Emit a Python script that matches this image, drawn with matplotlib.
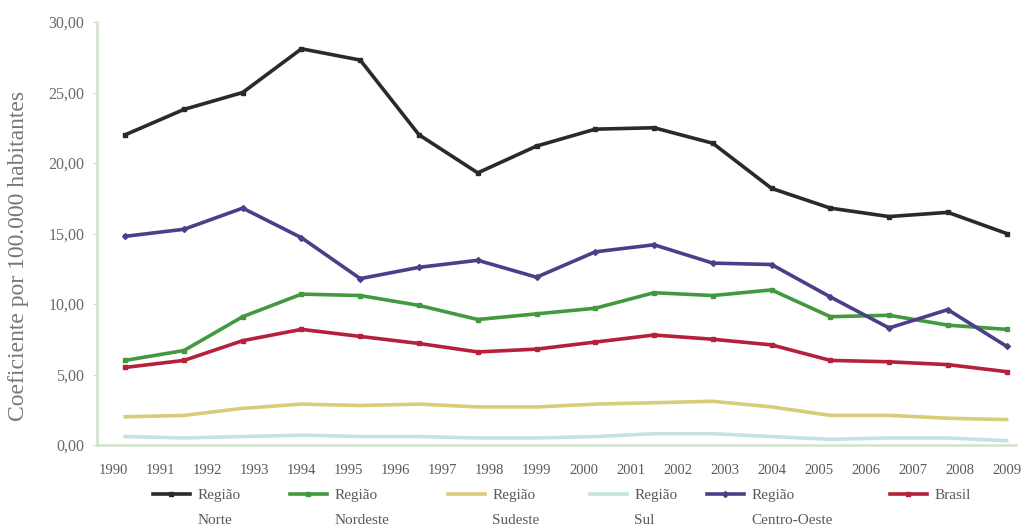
import numpy as np
import matplotlib
matplotlib.use("Agg")
import matplotlib.pyplot as plt

years = [str(y) for y in range(1990, 2010)]
n_points = 16

norte = [22.0, 23.8, 25.0, 28.1, 27.3, 22.0, 19.3, 21.2, 22.4, 22.5, 21.4, 18.2, 16.8, 16.2, 16.5, 15.0]
nordeste = [6.0, 6.7, 9.1, 10.7, 10.6, 9.9, 8.9, 9.3, 9.7, 10.8, 10.6, 11.0, 9.1, 9.2, 8.5, 8.2]
sudeste = [2.0, 2.1, 2.6, 2.9, 2.8, 2.9, 2.7, 2.7, 2.9, 3.0, 3.1, 2.7, 2.1, 2.1, 1.9, 1.8]
sul = [0.6, 0.5, 0.6, 0.7, 0.6, 0.6, 0.5, 0.5, 0.6, 0.8, 0.8, 0.6, 0.4, 0.5, 0.5, 0.3]
centro_oeste = [14.8, 15.3, 16.8, 14.7, 11.8, 12.6, 13.1, 11.9, 13.7, 14.2, 12.9, 12.8, 10.5, 8.3, 9.6, 7.0]
brasil = [5.5, 6.0, 7.4, 8.2, 7.7, 7.2, 6.6, 6.8, 7.3, 7.8, 7.5, 7.1, 6.0, 5.9, 5.7, 5.2]

first_lines = ["Região", "Região", "Região", "Região", "Região", "Brasil"]
second_lines = ["Norte", "Nordeste", "Sudeste", "Sul", "Centro-Oeste", ""]
yticks = [0, 5, 10, 15, 20, 25, 30]
ytick_labels = ["0,00", "5,00", "10,00", "15,00", "20,00", "25,00", "30,00"]

plt.rcParams['font.family'] = ['Liberation Serif', 'DejaVu Serif']

W, H = 1023, 530
fig = plt.figure(figsize=(W / 100, H / 100), dpi=100)
ax = fig.add_axes([97 / W, 1 - 445 / H, (1016 - 97) / W, (445 - 22) / H])

# data points span slightly offset from the category labels, as in the source
x = np.linspace(0.25, 19.0, n_points)
series = [norte, nordeste, sudeste, sul, centro_oeste, brasil]
colors = ["#2a2a2a", "#43993f", "#d8cc78", "#c3e3df", "#4b3f8a", "#b5203a"]
markers = ["s", "s", None, None, "D", "s"]
handles = []
for s, c, m in zip(series, colors, markers):
    h, = ax.plot(x, s, color=c, lw=2.6, marker=m, markersize=3)
    handles.append(h)

ax.set_xlim(-0.35, 19.2)
ax.set_ylim(0, 30)
ax.set_xticks(range(len(years)))
ax.set_xticklabels(years, fontsize=10.5, color="#5a5a5a")
ax.set_yticks(yticks)
ax.set_yticklabels(ytick_labels, fontsize=11.5, color="#6a6a6a")
ax.tick_params(axis='x', length=0, pad=14)
ax.tick_params(axis='y', length=3, color="#cfdcc8", pad=6)
ax.set_ylabel("Coeficiente por 100.000 habitantes", fontsize=17, color="#777777")
ax.yaxis.set_label_coords(-0.074, 0.447)
for sp in ["top", "right"]:
    ax.spines[sp].set_visible(False)
for sp in ["left", "bottom"]:
    ax.spines[sp].set_color("#d3e2cc")
    ax.spines[sp].set_linewidth(1.8)

# legend entries placed individually to match the uneven spacing
handle_x = [153, 290, 448, 590, 707, 890]
legend_y = 1 - 495 / H
second_y = 1 - 520 / H
legs = []
for h, lab, hx in zip(handles, first_lines, handle_x):
    lg = fig.legend(handles=[h], labels=[lab], loc="center left",
                    bbox_to_anchor=(hx / W, legend_y), frameon=False, fontsize=11,
                    borderpad=0, borderaxespad=0, handlelength=2.4,
                    handletextpad=0.5)
    for t in lg.get_texts():
        t.set_color("#5a5a5a")
    legs.append(lg)

fig.canvas.draw()
renderer = fig.canvas.get_renderer()
for lg, sec in zip(legs, second_lines):
    if not sec:
        continue
    bb = lg.get_texts()[0].get_window_extent(renderer)
    fig.text(bb.x0 / W, second_y, sec, fontsize=11, color="#5a5a5a",
             ha="left", va="center")

fig.savefig("out.png", dpi=100)
